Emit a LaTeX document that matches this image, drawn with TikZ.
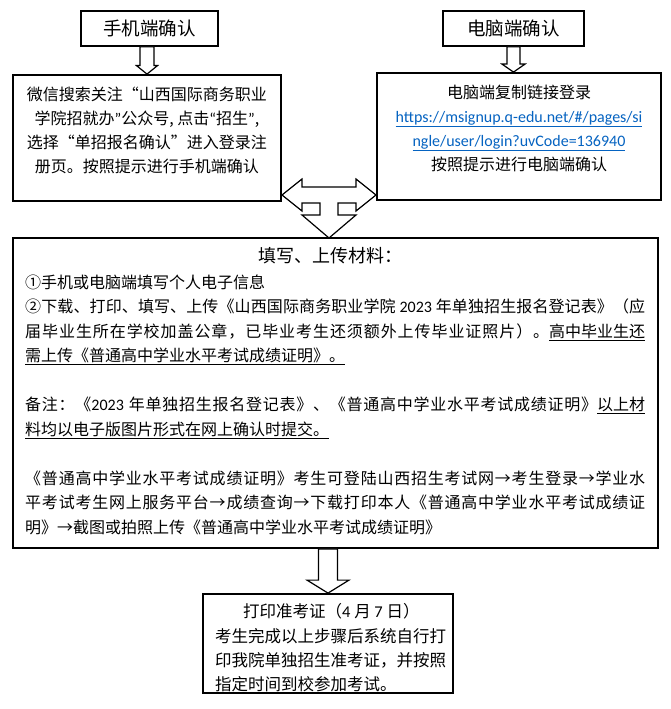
\documentclass[tikz,border=0pt]{standalone}
\usepackage{fontspec}
\setmainfont{Noto Sans CJK SC}
\newfontfamily\latf{Carlito}
\newcommand\lt[1]{{\latf #1}}
\usetikzlibrary{calc}
\definecolor{urlblue}{RGB}{5,99,193}
% inter-character glue for CJK so that lines can be justified
\newcount\cjkc
\def\setcls#1#2{\cjkc=#1 \loop\XeTeXcharclass\cjkc=1 \ifnum\cjkc<#2 \advance\cjkc by 1 \repeat}
\setcls{"4E00}{"9FFF}
\setcls{"3000}{"303F}
\setcls{"FF00}{"FFEF}
\setcls{"2460}{"2473}
\XeTeXcharclass"201C=1 \XeTeXcharclass"201D=1 \XeTeXcharclass"2192=1
\XeTeXinterchartokenstate=1
\XeTeXinterchartoks 1 1 = {\hskip 0pt plus 1pt minus 0.6pt\relax}
\newcommand\jl[1]{\makebox[620pt][s]{#1}}
\newcommand\blockdown[5]{%
  \draw[blk] ($(#1)+(-#3,0)$) -- ($(#2)+(-#3,-#5)$) -- ($(#2)+(-#4,-#5)$) -- (#2)
    -- ($(#2)+(#4,-#5)$) -- ($(#2)+(#3,-#5)$) -- ($(#1)+(#3,0)$) -- cycle;}
\begin{document}
\begin{tikzpicture}[x=1pt,y=-1pt,
  box/.style={draw=black,line width=1.8pt,inner sep=0pt},
  blk/.style={draw=black,fill=white,line width=1.2pt,line join=miter},
  body/.style={inner sep=0pt,font=\fontsize{16}{24}\selectfont},
  ttl/.style={inner sep=0pt,font=\fontsize{18.5}{22}\selectfont}]
\useasboundingbox (0,0) rectangle (670,709);
\fill[white] (0,0) rectangle (670,709);

% boxes
\node[box,minimum width=137pt,minimum height=35pt] (t1) at (149.5,28.5) {};
\node[box,minimum width=141pt,minimum height=35pt] (t2) at (513.5,28.5) {};
\node[box,minimum width=268pt,minimum height=126pt] (b1) at (147,138) {};
\node[box,minimum width=284pt,minimum height=127pt] (b2) at (519,136.5) {};
\node[box,minimum width=645pt,minimum height=310pt] (b3) at (335.5,393) {};
\node[box,minimum width=250pt,minimum height=99pt] (b4) at (328,643.5) {};

% titles
\node[ttl] (t1l) at (t1.center) {手机端确认};
\node[ttl] (t2l) at (t2.center) {电脑端确认};
\node[ttl,font=\fontsize{18}{22}\selectfont] (b3h) at (330,256) {填写、上传材料：};

% texts
\node[body,align=center,anchor=north] (b1t) at (147,86.5) {%
微信搜索关注“山西国际商务职业\\
学院招就办\lt{”}公众号, 点击\lt{“}招生\lt{”},\\
选择“单招报名确认”进入登录注\\
册页。按照提示进行手机端确认};

\node[body,align=center,anchor=north] (b2t) at (519,84.5) {%
电脑端复制链接登录\\
{\latf\color{urlblue}\underline{https://msignup.q-edu.net/\#/pages/si}}\\
{\latf\color{urlblue}\underline{ngle/user/login?uvCode=136940}}\\
按照提示进行电脑端确认};

\node[body,font=\fontsize{16}{24.5}\selectfont,align=left,anchor=north west] (b3t) at (25,274.5) {%
①手机或电脑端填写个人电子信息\\
\jl{②下载、打印、填写、上传《山西国际商务职业学院\lt{ 2023 }年单独招生报名登记表》（应}\\
\jl{届毕业生所在学校加盖公章，已毕业考生还须额外上传毕业证照片）。\underline{高中毕业生还}}\\
\underline{需上传《普通高中学业水平考试成绩证明》。}\\[24.5pt]
\jl{备注：《\lt{2023 }年单独招生报名登记表》、《普通高中学业水平考试成绩证明》\underline{以上材}}\\
\underline{料均以电子版图片形式在网上确认时提交。}\\[24.5pt]
\jl{《普通高中学业水平考试成绩证明》考生可登陆山西招生考试网→考生登录→学业水}\\
\jl{平考试考生网上服务平台→成绩查询→下载打印本人《普通高中学业水平考试成绩证}\\
明》→截图或拍照上传《普通高中学业水平考试成绩证明》};

\node[body,font=\fontsize{16.5}{24.3}\selectfont,align=left,anchor=north west] (b4t) at (215,603.5) {%
\hspace*{28pt}打印准考证（\lt{4} 月 \lt{7} 日）\\
考生完成以上步骤后系统自行打\\
印我院单独招生准考证，并按照\\
指定时间到校参加考试。};

% block arrows
\coordinate (a1t) at (b1.north |- t1.south);
\coordinate (a1b) at (b1.north);
\blockdown{a1t}{a1b}{7}{10.5}{8.5}
\coordinate (a2t) at (t2.south);
\coordinate (a2b) at (t2.south |- b2.north);
\blockdown{a2t}{a2b}{6.5}{11.5}{8}
\coordinate (a3t) at (b4.north |- b3.south);
\coordinate (a3b) at (b4.north);
\blockdown{a3t}{a3b}{9.5}{21}{13}

\coordinate (hub) at (329,195);
\draw[blk,shift={(hub)}] (-47,0) -- (-27,-16) -- (-27,-8) -- (27,-8) -- (27,-16) -- (47,0)
  -- (27,16) -- (27,8) -- (9,8) -- (9,20) -- (27,20) -- (0,43) -- (-27,20) -- (-9,20)
  -- (-9,8) -- (-27,8) -- (-27,16) -- cycle;
\end{tikzpicture}
\end{document}
